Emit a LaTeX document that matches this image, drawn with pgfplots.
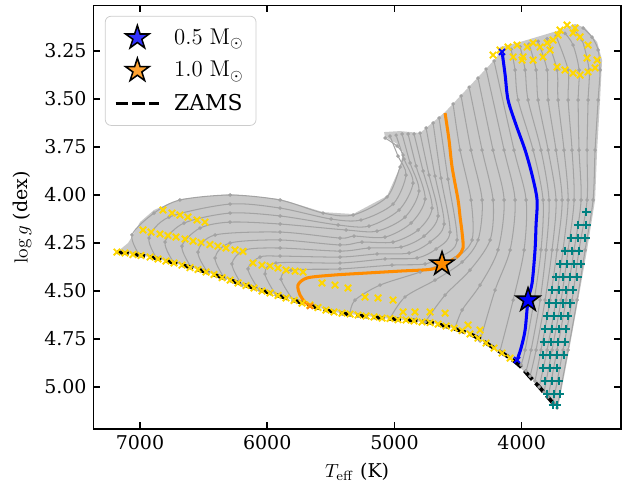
\documentclass[border=0pt]{standalone}
\usepackage[no-math]{fontspec}
\setmainfont{DejaVu Serif}
\usepackage{pgfplots}
\pgfplotsset{compat=1.18}

\definecolor{trk}{HTML}{A3A3A3}
\definecolor{mesh}{HTML}{C9C9C9}
\definecolor{gold}{HTML}{FFD700}
\definecolor{tealc}{HTML}{008080}
\definecolor{dorange}{HTML}{FF8C00}

% filled five-pointed star, like matplotlib's '*'
\newdimen\starr
\pgfdeclareplotmark{fstar}{%
  \starr=0.382\pgfplotmarksize
  \pgfpathmoveto{\pgfqpointpolar{90}{\pgfplotmarksize}}%
  \pgfpathlineto{\pgfqpointpolar{126}{\starr}}%
  \pgfpathlineto{\pgfqpointpolar{162}{\pgfplotmarksize}}%
  \pgfpathlineto{\pgfqpointpolar{198}{\starr}}%
  \pgfpathlineto{\pgfqpointpolar{234}{\pgfplotmarksize}}%
  \pgfpathlineto{\pgfqpointpolar{270}{\starr}}%
  \pgfpathlineto{\pgfqpointpolar{306}{\pgfplotmarksize}}%
  \pgfpathlineto{\pgfqpointpolar{342}{\starr}}%
  \pgfpathlineto{\pgfqpointpolar{18}{\pgfplotmarksize}}%
  \pgfpathlineto{\pgfqpointpolar{54}{\starr}}%
  \pgfpathclose
  \pgfusepathqfillstroke}

\begin{document}
\begin{tikzpicture}
\useasboundingbox (-49.1pt,-33.7pt) rectangle (278.2pt,225.8pt);
\begin{axis}[
    scale only axis,
    width=277.7pt, height=222.8pt,
    x dir=reverse, y dir=reverse,
    xmin=3219, xmax=7367,
    ymin=3.014, ymax=5.219,
    xtick={4000,5000,6000,7000},
    ytick={3.25,3.5,3.75,4,4.25,4.5,4.75,5},
    /pgf/number format/assume math mode=true,
    /pgf/number format/1000 sep={},
    yticklabel style={/pgf/number format/fixed,/pgf/number format/fixed zerofill,/pgf/number format/precision=2},
    scaled ticks=false,
    tick align=inside,
    xtick pos=both, ytick pos=both,
    major tick length=3.5pt,
    every tick/.style={black, line width=0.8pt},
    axis line style={line width=0.8pt},
    xlabel={$T_{\rm eff}$ (K)},
    ylabel={$\log g$ (dex)},
    legend image code/.code={\draw[mark repeat=2,mark phase=2,#1] plot coordinates {(0cm,0cm) (0.4cm,0cm) (0.8cm,0cm)};},
    legend style={at={(0.022,0.976)}, anchor=north west, draw=black!20, rounded corners=3pt,
        fill=white, fill opacity=0.8, text opacity=1, row sep=3.5pt, inner sep=4.5pt,
        font=\fontsize{11.5}{13}\selectfont,
        /tikz/every odd column/.append style={column sep=5pt}},
    legend cell align=left,
    track/.style={color=trk, line width=0.55pt, smooth, tension=0.5, mark=*, mark size=0.65pt,
        mark options={fill=trk, draw=none}, forget plot},
]

% ---- envelope of the model grid ----
\addplot[fill=mesh, draw=none, forget plot] coordinates {
(7181,4.297)(7094,4.250)(7055,4.208)(7000,4.141)(6890,4.078)(6686,4.021)(6292,3.995)(5899,4.021)
(5561,4.089)(5325,4.099)(5058,4.005)(4956,3.854)(4932,3.776)(4979,3.734)(5074,3.698)(5082,3.672)
(4956,3.667)(4799,3.677)(4602,3.568)(4193,3.281)(4170,3.229)(4012,3.203)(3698,3.141)(3580,3.109)
(3501,3.130)(3407,3.203)(3368,3.297)(3384,3.505)(3407,3.766)(3423,4.026)(3486,4.286)(3556,4.547)
(3627,4.807)(3714,5.109)(3934,4.948)(4091,4.849)(4225,4.792)(4430,4.714)(4697,4.667)(5090,4.641)
(5483,4.609)(5664,4.573)(5876,4.530)(6135,4.479)(6528,4.390)(6921,4.323)(7181,4.297)};

% ---- low-mass tracks (right of 0.5 Msun) ----
\addplot[track] coordinates {(4083,3.241)(4052,3.349)(4028,3.505)(3910,3.766)(3832,4.026)(3848,4.286)(3902,4.547)(3973,4.807)(4005,4.885)};
\addplot[track] coordinates {(4012,3.228)(3973,3.349)(3950,3.505)(3848,3.766)(3785,4.026)(3808,4.286)(3855,4.547)(3926,4.807)(3965,4.917)};
\addplot[track] coordinates {(3942,3.214)(3887,3.349)(3871,3.505)(3792,3.766)(3730,4.026)(3761,4.286)(3816,4.547)(3887,4.807)(3934,4.943)};
\addplot[track] coordinates {(3871,3.199)(3800,3.349)(3792,3.505)(3730,3.766)(3682,4.026)(3722,4.286)(3777,4.547)(3848,4.807)(3895,4.969)};
\addplot[track] coordinates {(3800,3.186)(3722,3.349)(3714,3.505)(3667,3.766)(3635,4.026)(3675,4.286)(3730,4.547)(3800,4.807)(3863,5.000)};
\addplot[track] coordinates {(3730,3.172)(3635,3.349)(3635,3.505)(3604,3.766)(3588,4.026)(3635,4.286)(3690,4.547)(3761,4.807)(3824,5.026)};
\addplot[track] coordinates {(3659,3.158)(3596,3.219)(3549,3.349)(3556,3.505)(3549,3.766)(3533,4.026)(3588,4.286)(3651,4.547)(3722,4.807)(3792,5.052)};
\addplot[track] coordinates {(3588,3.144)(3525,3.193)(3470,3.349)(3478,3.505)(3486,3.766)(3486,4.026)(3549,4.286)(3604,4.547)(3675,4.807)(3753,5.083)};
\addplot[track] coordinates {(3517,3.130)(3447,3.178)(3399,3.245)(3384,3.349)(3399,3.505)(3423,3.766)(3439,4.026)(3501,4.286)(3564,4.547)(3635,4.807)(3722,5.109)};

% ---- tracks between 0.5 and 1.0 Msun ----
\addplot[track] coordinates {(4217,3.302)(4060,3.766)(3965,4.026)(3981,4.286)(4067,4.547)(4170,4.812)};
\addplot[track] coordinates {(4280,3.344)(4138,3.766)(4052,4.026)(4091,4.286)(4209,4.495)(4327,4.760)};
\addplot[track] coordinates {(4343,3.391)(4225,3.766)(4138,4.026)(4186,4.286)(4327,4.469)(4468,4.599)(4524,4.693)};
\addplot[track] coordinates {(4413,3.438)(4311,3.766)(4225,4.026)(4248,4.234)(4406,4.391)(4602,4.521)(4759,4.661)};
\addplot[track] coordinates {(4476,3.484)(4398,3.766)(4311,4.026)(4343,4.234)(4468,4.349)(4681,4.443)(4917,4.531)(5034,4.641)};
\addplot[track] coordinates {(4539,3.526)(4484,3.766)(4398,4.026)(4390,4.234)(4524,4.328)(4799,4.401)(5113,4.469)(5310,4.547)(5349,4.615)};

% ---- tracks above 1.0 Msun ----
\addplot[track] coordinates {(4649,3.599)(4579,3.917)(4508,4.234)(4626,4.318)(4759,4.359)(5019,4.365)(5428,4.385)(5813,4.391)(5891,4.438)(5797,4.547)};
\addplot[track] coordinates {(4696,3.625)(4634,3.912)(4563,4.193)(4673,4.281)(4822,4.328)(5074,4.333)(5428,4.354)(5931,4.354)(6017,4.411)(5931,4.521)};
\addplot[track] coordinates {(4751,3.651)(4681,3.901)(4610,4.151)(4720,4.245)(4885,4.302)(5137,4.307)(5428,4.323)(5899,4.318)(6057,4.323)(6151,4.385)(6064,4.495)};
\addplot[track] coordinates {(4799,3.677)(4728,3.896)(4657,4.109)(4767,4.214)(4948,4.271)(5200,4.276)(5428,4.292)(5899,4.276)(6175,4.286)(6277,4.359)(6198,4.469)};
\addplot[track] coordinates {(4846,3.682)(4775,3.875)(4704,4.068)(4814,4.182)(5011,4.245)(5255,4.245)(5428,4.260)(5899,4.234)(6292,4.250)(6410,4.328)(6332,4.438)};
\addplot[track] coordinates {(4893,3.682)(4830,3.849)(4759,4.021)(4869,4.146)(5074,4.219)(5318,4.214)(5428,4.224)(5899,4.193)(6410,4.208)(6544,4.297)(6465,4.406)};
\addplot[track] coordinates {(4940,3.682)(4877,3.833)(4807,3.979)(4917,4.115)(5137,4.188)(5380,4.182)(5899,4.151)(6292,4.141)(6528,4.172)(6670,4.266)(6599,4.375)};
\addplot[track] coordinates {(4987,3.688)(4924,3.813)(4854,3.938)(4964,4.078)(5200,4.162)(5443,4.156)(5899,4.109)(6292,4.094)(6654,4.146)(6803,4.245)(6733,4.354)};
\addplot[track] coordinates {(5035,3.693)(4972,3.797)(4909,3.896)(5011,4.047)(5263,4.130)(5498,4.125)(5899,4.068)(6292,4.047)(6772,4.115)(6929,4.224)(6866,4.333)};
\addplot[track] coordinates {(5074,3.703)(4979,3.745)(4932,3.792)(4956,3.854)(5058,4.010)(5325,4.104)(5561,4.094)(5899,4.026)(6292,4.000)(6686,4.026)(6890,4.094)(7063,4.208)(7000,4.318)};

% ---- yellow crosses: track starts, ZAMS points and rows above the ZAMS ----
\addplot[only marks, mark=x, gold, mark size=2.4pt, line width=1pt, forget plot] coordinates {
(4225,3.271)(4107,3.229)(4036,3.219)(3997,3.297)(3957,3.229)(3910,3.208)(3855,3.229)(3800,3.208)
(3753,3.193)(3714,3.167)(3643,3.115)(3596,3.156)(3541,3.177)(3478,3.219)(3722,3.333)(3659,3.349)
(3596,3.365)(3541,3.375)(3478,3.359)(3423,3.338)(3407,3.297)(3486,3.286)(3832,3.281)(3910,3.297)
(3989,3.281)(4067,3.281)(4170,3.245)(3580,3.130)(3698,3.141)(3777,3.245)
(6819,4.078)(6748,4.094)(6686,4.104)(6623,4.115)(6552,4.130)(6489,4.141)
(6976,4.182)(6913,4.193)(6843,4.203)(6780,4.211)(6717,4.219)(6646,4.229)(6583,4.240)(6520,4.247)
(6450,4.258)(6387,4.266)(6324,4.276)(6253,4.286)(6190,4.294)
(6112,4.354)(6041,4.365)(5978,4.370)(5915,4.380)(5852,4.391)(5781,4.396)(5718,4.401)(5569,4.458)
(5467,4.469)(5365,4.484)(5231,4.531)(5129,4.536)(5011,4.547)(4932,4.609)(4838,4.609)(4720,4.609)
(4602,4.615)(4421,4.677)(4327,4.703)
(7181,4.297)(7118,4.302)(7055,4.310)(6992,4.315)(6921,4.323)(6859,4.333)(6796,4.344)(6733,4.354)
(6670,4.365)(6607,4.378)(6544,4.388)(6481,4.401)(6418,4.414)(6355,4.430)(6292,4.443)(6229,4.458)
(6167,4.471)(6104,4.484)(6041,4.500)(5978,4.510)(5915,4.523)(5852,4.536)(5789,4.549)(5726,4.563)
(5664,4.573)(5601,4.586)(5538,4.599)(5475,4.609)(5412,4.615)(5349,4.620)(5286,4.625)(5223,4.630)
(5160,4.635)(5097,4.641)(5035,4.643)(4972,4.649)(4909,4.651)(4846,4.656)(4783,4.661)(4720,4.664)
(4657,4.672)(4594,4.682)(4531,4.693)(4468,4.706)(4406,4.724)(4343,4.745)(4280,4.771)(4217,4.797)
(4154,4.823)(4091,4.849)};

% ---- teal pluses on the lowest-mass tracks ----
\addplot[only marks, mark=+, tealc, mark size=2.3pt, line width=0.9pt, forget plot] coordinates {
(3493,4.089)
(3556,4.156)(3493,4.156)
(3611,4.224)(3556,4.224)(3501,4.224)
(3659,4.292)(3604,4.292)(3549,4.292)
(3698,4.359)(3643,4.359)(3588,4.359)(3533,4.359)
(3730,4.427)(3675,4.427)(3619,4.427)(3564,4.427)
(3761,4.495)(3706,4.495)(3651,4.495)(3596,4.495)
(3785,4.563)(3730,4.563)(3675,4.563)(3619,4.563)
(3800,4.630)(3745,4.630)(3690,4.630)(3635,4.630)
(3816,4.698)(3761,4.698)(3706,4.698)(3651,4.698)
(3824,4.766)(3769,4.766)(3714,4.766)(3659,4.766)
(3832,4.833)(3777,4.833)(3722,4.833)(3667,4.833)
(3832,4.901)(3777,4.901)(3722,4.901)
(3816,4.969)(3761,4.969)(3706,4.969)
(3800,5.036)(3745,5.036)(3698,5.036)
(3753,5.094)(3722,5.094)};

% ---- highlighted tracks ----
\addplot[dorange, line width=1.6pt, smooth, tension=0.5, forget plot] coordinates {
(4602,3.573)(4571,3.714)(4547,3.854)(4500,4.026)(4484,4.115)(4468,4.198)(4461,4.276)(4500,4.318)
(4579,4.349)(4697,4.385)(4956,4.396)(5215,4.406)(5483,4.417)(5687,4.432)(5758,4.469)(5742,4.521)
(5703,4.557)(5664,4.578)};
\addplot[only marks, mark=x, dorange, mark size=2.2pt, line width=1pt, forget plot] coordinates {(5664,4.578)};
\addplot[blue, line width=1.6pt, smooth, tension=0.5, forget plot] coordinates {
(4154,3.255)(4130,3.375)(4107,3.505)(4044,3.635)(3973,3.766)(3918,3.896)(3879,4.026)(3887,4.156)
(3895,4.286)(3918,4.458)(3950,4.547)(3973,4.703)(4005,4.797)(4036,4.859)};
\addplot[only marks, mark=x, blue, mark size=2.2pt, line width=1pt, forget plot] coordinates {(4154,3.255)(4036,4.859)};

% ---- stars and ZAMS ----
\addplot[only marks, mark=fstar, mark size=6.5pt, mark options={fill=blue, draw=black, line width=0.8pt}] coordinates {(3950,4.547)};
\addlegendentry{$0.5\ \mathrm{M}_\odot$}
\addplot[only marks, mark=fstar, mark size=6.5pt, mark options={fill=dorange, draw=black, line width=0.8pt}] coordinates {(4626,4.359)};
\addlegendentry{$1.0\ \mathrm{M}_\odot$}
\addplot[black, line width=2pt, dash pattern=on 6.2pt off 2.5pt, smooth, tension=0.5] coordinates {
(7181,4.297)(6921,4.323)(6544,4.388)(6167,4.471)(5789,4.549)(5475,4.609)(5097,4.641)(4720,4.664)
(4406,4.724)(4217,4.797)(4091,4.849)(4012,4.891)(3934,4.948)(3855,5.005)(3722,5.109)};
\addlegendentry{ZAMS}
\end{axis}
\end{tikzpicture}
\end{document}
